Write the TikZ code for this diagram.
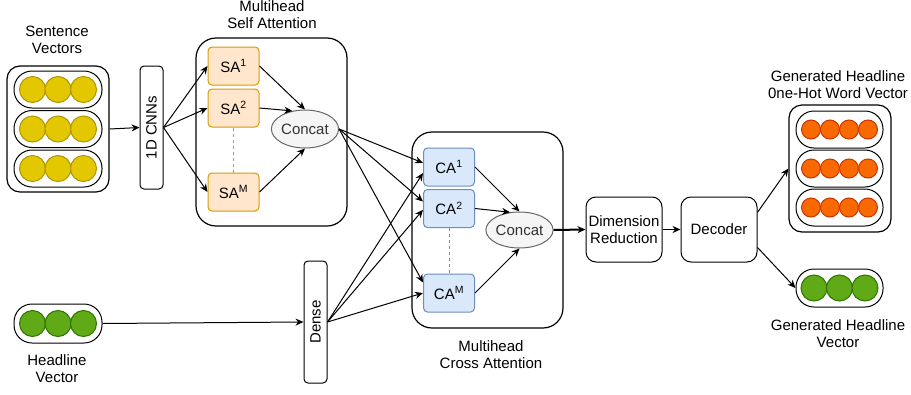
\documentclass[tikz,border=0pt]{standalone}
\usepackage{fontspec}
\setmainfont{Liberation Sans}
\usetikzlibrary{shapes,arrows.meta}

\definecolor{dotyellow}{HTML}{E3C800}
\definecolor{dotyellowline}{HTML}{B09500}
\definecolor{dotorange}{HTML}{FA6800}
\definecolor{dotorangeline}{HTML}{C73500}
\definecolor{dotgreen}{HTML}{60A917}
\definecolor{dotgreenline}{HTML}{2D7600}
\definecolor{safill}{HTML}{FFE6CC}
\definecolor{saline}{HTML}{D79B00}
\definecolor{cafill}{HTML}{DAE8FC}
\definecolor{caline}{HTML}{6C8EBF}
\definecolor{concatfill}{HTML}{F5F5F5}
\definecolor{concatline}{HTML}{666666}
\definecolor{concattext}{HTML}{333333}

\begin{document}
\begin{tikzpicture}[x=1pt,y=-1pt,font=\fontsize{15}{17}\selectfont,
		>={Stealth[length=8pt,width=7pt]},
		groupbox/.style={draw,line width=1.2pt,rounded corners=13pt},
		pill/.style={draw,line width=1pt,rounded corners=18pt,minimum width=88pt,minimum height=37pt},
		ball/.style={circle,draw,line width=1pt,inner sep=0pt,minimum size=#1},
		layerbox/.style={draw,line width=1pt,rounded corners=4pt,minimum width=123pt,minimum height=23pt,inner sep=0pt,rotate=90},
		head/.style={draw,line width=1pt,rounded corners=4pt,minimum width=51pt,minimum height=38pt,inner sep=0pt},
		concatnode/.style={ellipse,draw=concatline,fill=concatfill,text=concattext,line width=1pt,minimum width=64pt,minimum height=38pt,inner sep=0pt},
		block/.style={draw,line width=1pt,rounded corners=10pt,minimum width=76pt,minimum height=65pt,align=center,inner sep=0pt},
		heading/.style={align=center,inner sep=0pt},
		conn/.style={->,line width=1pt}]
		\useasboundingbox (0,0) rectangle (911,394);

		\node[groupbox,minimum width=102pt,minimum height=126pt] (sent) at (58,129) {};
		\foreach \r/\y in {1/89.5,2/129,3/168.5}{
			\node[pill] (sent\r) at (58,\y) {};
			\foreach \c/\x in {1/32.5,2/58,3/83.5}
				\node[ball=26pt,fill=dotyellow,draw=dotyellowline] (sent\r-\c) at (\x,\y) {};
		}
		\node[heading] (senttitle) at (57,40) {Sentence\\Vectors};

		\node[pill,minimum height=39pt] (headvec) at (58,323.5) {};
		\foreach \c/\x in {1/32.5,2/58,3/83.5}
			\node[ball=26pt,fill=dotgreen,draw=dotgreenline] (headvec-\c) at (\x,323.5) {};
		\node[heading] (headvectitle) at (57,369) {Headline\\Vector};

		\node[layerbox] (cnn) at (151.5,127.5) {1D CNNs};
		\node[layerbox,minimum width=122pt] (dense) at (315.5,322) {Dense};

		\node[groupbox,rounded corners=20pt,minimum width=151pt,minimum height=188pt] (selfatt) at (271.5,132) {};
		\node[heading] (selftitle) at (272,15) {Multihead\\Self Attention};
		\node[head,fill=safill,draw=saline] (sa1) at (233.5,66) {SA\textsuperscript{1}};
		\node[head,fill=safill,draw=saline] (sa2) at (233.5,108) {SA\textsuperscript{2}};
		\node[head,fill=safill,draw=saline] (saM) at (233.5,192) {SA\textsuperscript{M}};
		\node[concatnode] (concat1) at (305,129) {Concat};
		\draw[saline,dashed,line width=1pt] (sa2.south) -- (saM.north);

		\node[groupbox,rounded corners=20pt,minimum width=151pt,minimum height=196pt] (crossatt) at (487.5,230) {};
		\node[heading] (crosstitle) at (491,355) {Multihead\\Cross Attention};
		\node[head,fill=cafill,draw=caline] (ca1) at (449,167) {CA\textsuperscript{1}};
		\node[head,fill=cafill,draw=caline] (ca2) at (449,208.5) {CA\textsuperscript{2}};
		\node[head,fill=cafill,draw=caline] (caM) at (449,293) {CA\textsuperscript{M}};
		\node[concatnode,minimum height=36pt] (concat2) at (519.5,230) {Concat};
		\draw[caline,dashed,line width=1pt] (ca2.south) -- (caM.north);

		\node[block] (dimred) at (624,229.5) {Dimension\\Reduction};
		\node[block] (decoder) at (719,229.5) {Decoder};

		\node[groupbox,minimum width=102pt,minimum height=127pt] (onehot) at (840,168.5) {};
		\foreach \r/\y in {1/129.5,2/168.5,3/207.5}{
			\node[pill,minimum width=87pt] (onehot\r) at (839.5,\y) {};
			\foreach \c/\x in {1/811,2/830,3/849,4/868}
				\node[ball=19pt,fill=dotorange,draw=dotorangeline] (onehot\r-\c) at (\x,\y) {};
		}
		\node[heading] (onehottitle) at (838,84.5) {Generated Headline\\0ne-Hot Word Vector};

		\node[pill,minimum width=87pt,minimum height=38pt] (genvec) at (839.5,288) {};
		\foreach \c/\x in {1/814,2/839.5,3/865}
			\node[ball=26pt,fill=dotgreen,draw=dotgreenline] (genvec-\c) at (\x,288) {};
		\node[heading] (genvectitle) at (838,334) {Generated Headline\\Vector};

		\draw[conn] (sent.east) -- (cnn.north);
		\draw[conn] (headvec.east) -- (dense.north);
		\foreach \h in {sa1,sa2,saM}
			\draw[conn] (cnn.south) -- (\h.west);
		\draw[conn] (sa1.east) -- (concat1.north);
		\draw[conn] (sa2.east) -- (concat1.125);
		\draw[conn] (saM.east) -- (concat1.south);
		\foreach \h/\a/\b in {ca1/171/193,ca2/165/183,caM/158/180}{
			\draw[conn] (concat1.east) -- (\h.\a);
			\draw[conn] (dense.south) -- (\h.\b);
		}
		\draw[conn] (ca1.east) -- (concat2.north);
		\draw[conn] (ca2.east) -- (concat2.118);
		\draw[conn] (caM.east) -- (concat2.south);
		\draw[conn,line width=2pt] (concat2.east) -- (dimred.west);
		\draw[conn] (dimred.east) -- (decoder.west);
		\draw[conn] (decoder.24) -- (onehot.west);
		\draw[conn] (decoder.-25) -- (genvec.west);
\end{tikzpicture}
\end{document}
